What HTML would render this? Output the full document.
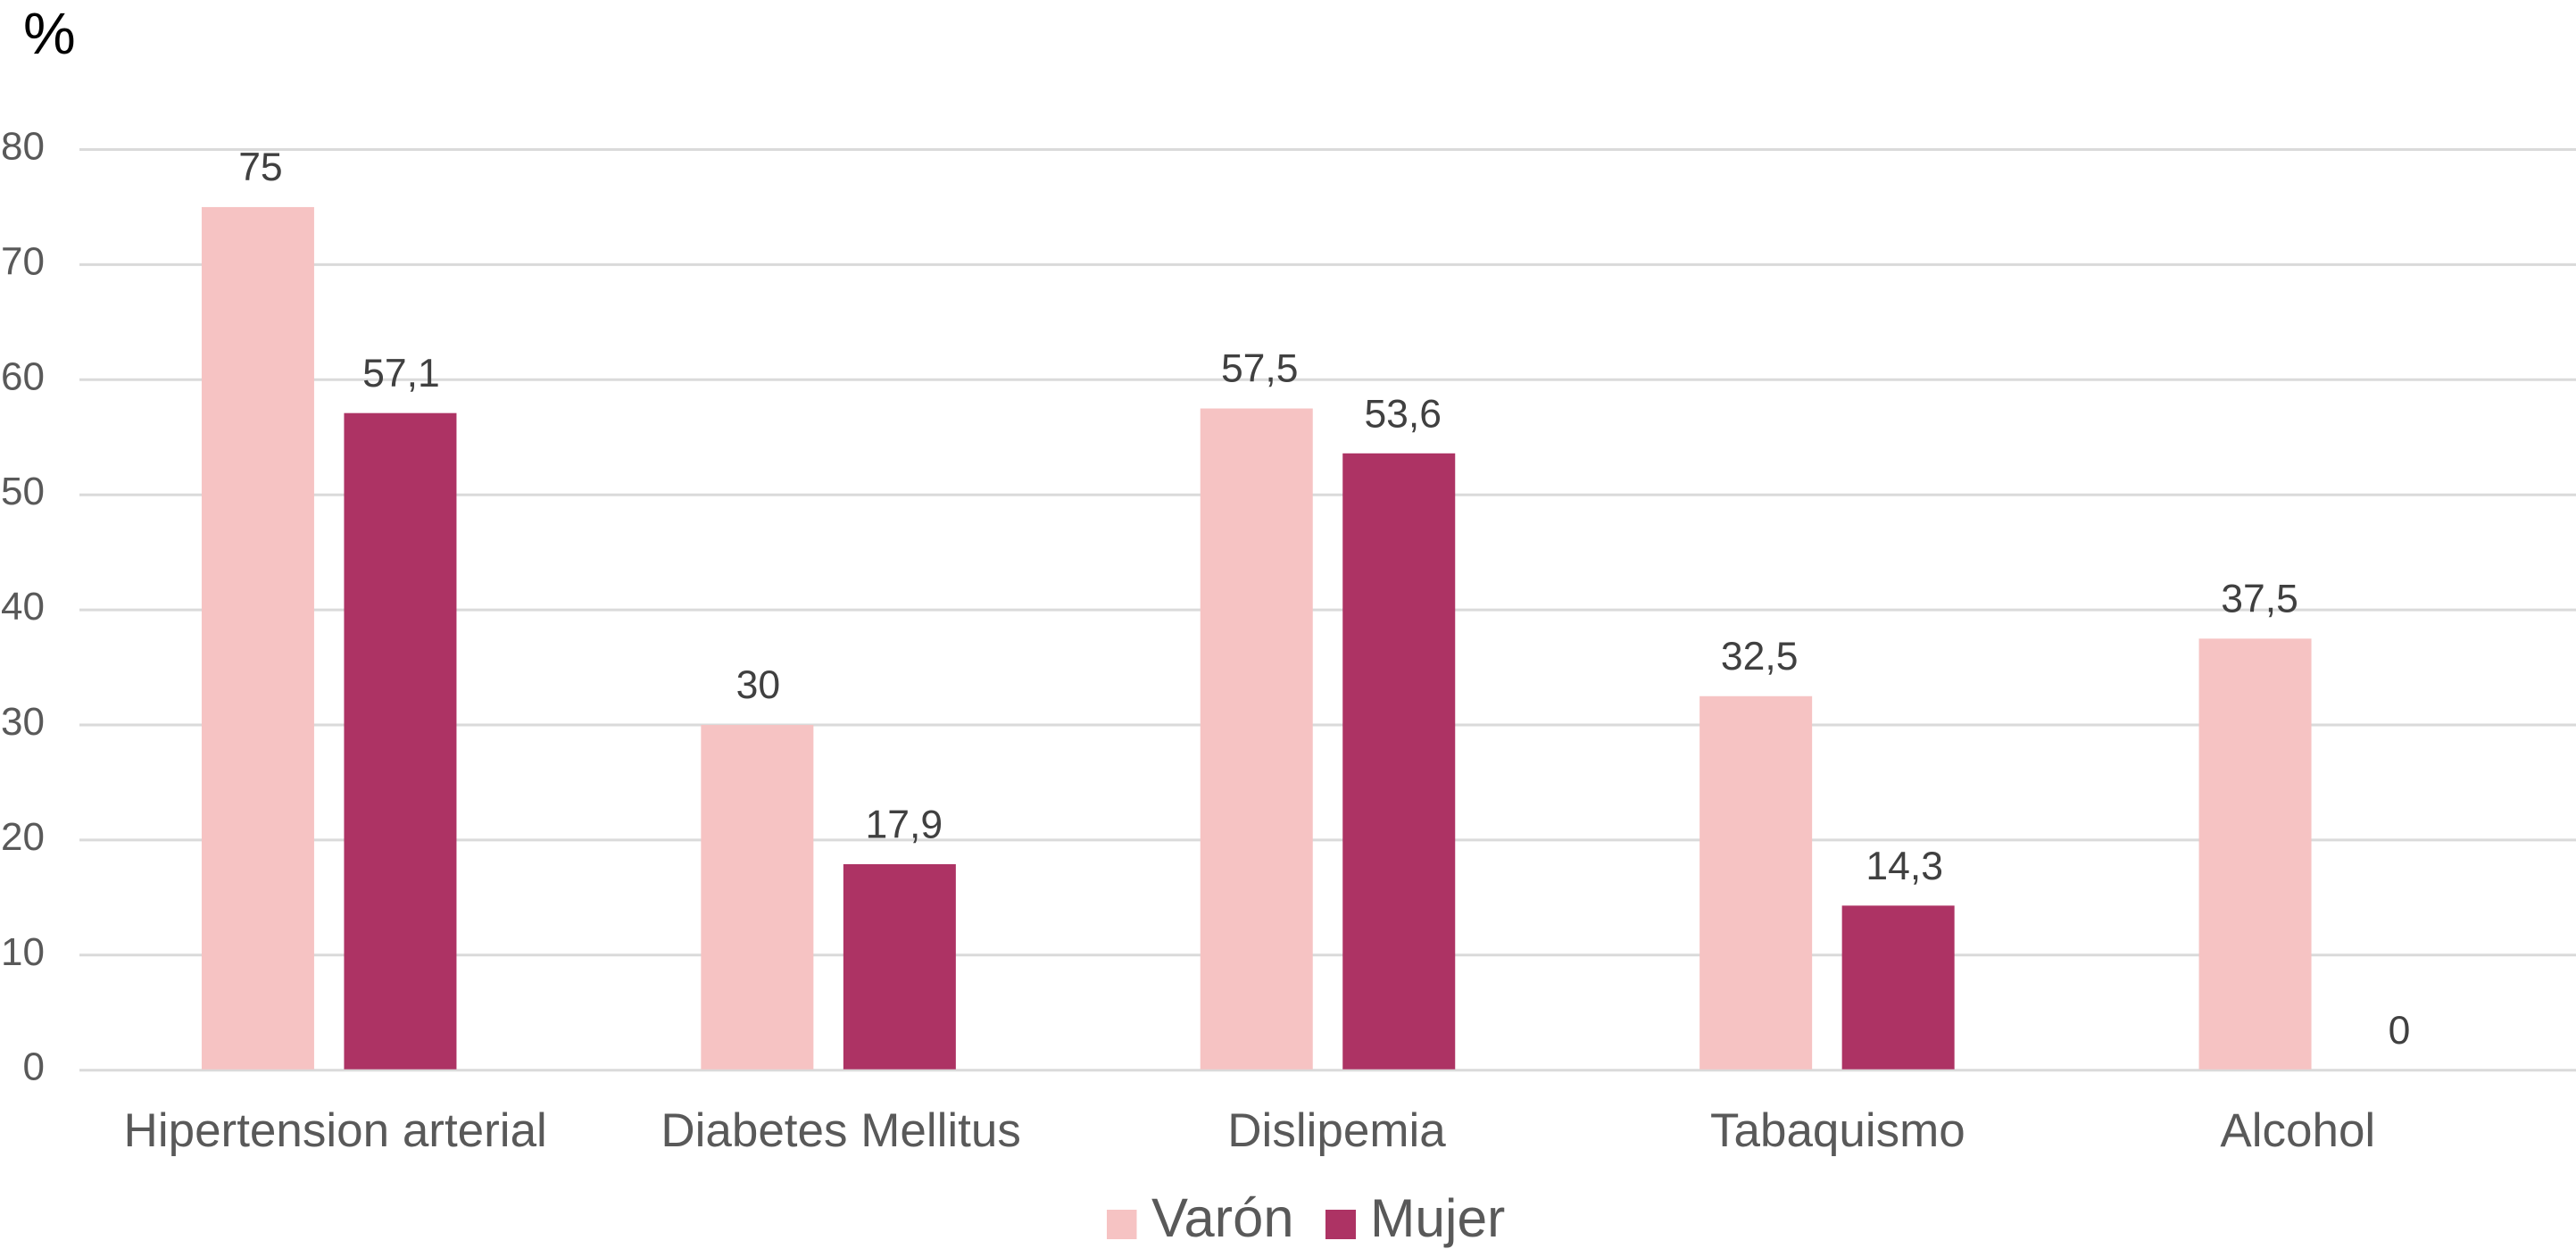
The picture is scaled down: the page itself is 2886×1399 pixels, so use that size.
<!DOCTYPE html>
<html lang="es">
<head>
<meta charset="utf-8">
<title>Factores de riesgo por sexo</title>
<style>
html,body{margin:0;padding:0;background:#fff;}
svg{display:block;font-family:"Liberation Sans",Arial,sans-serif;}
</style>
</head>
<body>
<svg id="chart" width="2886" height="1399" viewBox="0 0 2886 1399" xmlns="http://www.w3.org/2000/svg">
  <rect x="0" y="0" width="2886" height="1399" fill="#ffffff"/>
  <text x="26" y="60" font-size="66" fill="#000000">%</text>
  <g id="grid"></g>
  <g id="yticks"></g>
  <g id="bars"></g>
  <g id="values"></g>
  <g id="xticks"></g>
  <g>
    <g>
      <rect x="1240" y="1355" width="33.5" height="33" fill="#f6c3c3"/>
      <text x="1290" y="1385" font-size="61.5" fill="#595959">Varón</text>
    </g>
    <g>
      <rect x="1485" y="1355" width="34" height="33" fill="#ad3364"/>
      <text x="1535" y="1385" font-size="60.5" fill="#595959">Mujer</text>
    </g>
  </g>
</svg>
<script>
const categories = ["Hipertension arterial", "Diabetes Mellitus", "Dislipemia", "Tabaquismo", "Alcohol"];
const varonValues = [75, 30, 57.5, 32.5, 37.5];
const mujerValues = [57.1, 17.9, 53.6, 14.3, 0];
const yTicks = [0, 10, 20, 30, 40, 50, 60, 70, 80];

const NS = "http://www.w3.org/2000/svg";
const plotLeft = 89, plotRight = 2886, zeroY = 1198.7, pxPerUnit = 12.89;
const barW = 126, barOffset = 159.5;
const band = (plotRight - plotLeft) / categories.length;
const PINK = "#f6c3c3", PURPLE = "#ad3364";
const xLabelShift = [7, 14, 10, 12, -32];
const varonLabelShift = [3, 1, 3.5, 4, 5];
const mujerLabelShift = [1, 5, 4.5, 7, 2];

function yScale(v) { return zeroY - v * pxPerUnit; }
function groupCenter(i) { return plotLeft + band * (i + 0.5); }
function fmt(v) { return String(v).replace(".", ","); }
function make(tag, attrs, parentId, text) {
  const el = document.createElementNS(NS, tag);
  for (const k in attrs) el.setAttribute(k, attrs[k]);
  if (text !== undefined) el.textContent = text;
  document.getElementById(parentId).appendChild(el);
  return el;
}

yTicks.forEach(function (t) {
  const line = make("line", {x1: plotLeft, x2: plotRight, y1: yScale(t), y2: yScale(t), stroke: "#dadada", "stroke-width": 3}, "grid");
  
  
  const label = make("text", {x: 50, y: yScale(t) + 11, "text-anchor": "end", "font-size": 44, fill: "#595959"}, "yticks", String(t));
  
  
});

categories.forEach(function (c, i) {
  const cx = groupCenter(i);
  const xV = cx - (barOffset + barW) / 2;
  const xM = xV + barOffset;

  const barV = make("rect", {x: xV, y: yScale(varonValues[i]), width: barW, height: zeroY - 1 - yScale(varonValues[i]), fill: PINK}, "bars");
  
  
  if (mujerValues[i] > 0) {
    const barM = make("rect", {x: xM, y: yScale(mujerValues[i]), width: barW, height: zeroY - 1 - yScale(mujerValues[i]), fill: PURPLE}, "bars");
    
    
  }

  const valV = make("text", {x: xV + barW / 2 + varonLabelShift[i], y: yScale(varonValues[i]) - 30, "text-anchor": "middle", "font-size": 44.5, fill: "#404040"}, "values", fmt(varonValues[i]));
  
  
  const valM = make("text", {x: xM + barW / 2 + mujerLabelShift[i], y: yScale(mujerValues[i]) - 29.5, "text-anchor": "middle", "font-size": 44.5, fill: "#404040"}, "values", fmt(mujerValues[i]));
  
  

  const xl = make("text", {x: cx + xLabelShift[i], y: 1284, "text-anchor": "middle", "font-size": 53, fill: "#595959"}, "xticks", c);
  
  
});
</script>
</body>
</html>
